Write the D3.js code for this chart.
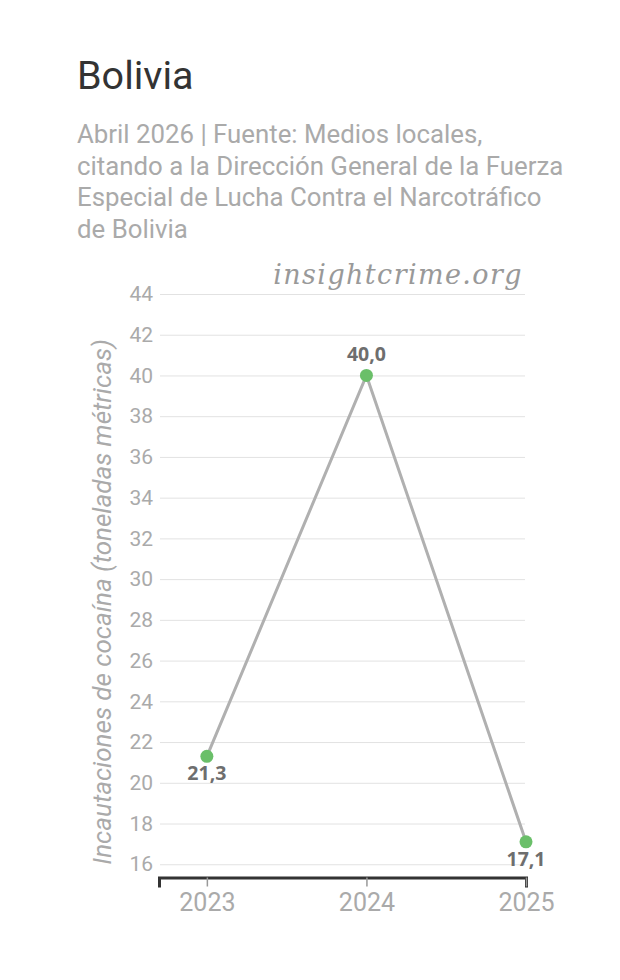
<!DOCTYPE html>
<html>
<head>
<meta charset="utf-8">
<script src="https://cdn.jsdelivr.net/npm/d3@7"></script>
<style>
  body { margin: 0; background: #fff; font-family: Roboto, "Noto Sans", sans-serif; }
</style>
</head>
<body>
<div id="chart"></div>
<script>
// Data
const years = [2023, 2024, 2025];
const seizures = [21.3, 40.0, 17.1];
const yTicks = [16, 18, 20, 22, 24, 26, 28, 30, 32, 34, 36, 38, 40, 42, 44];

const subtitleLines = [
    "Abril 2026 | Fuente: Medios locales,",
    "citando a la Dirección General de la Fuerza",
    "Especial de Lucha Contra el Narcotráfico",
    "de Bolivia"
];

const W = 620, H = 980;
const margin = {top: 294, right: 93, bottom: 102, left: 159};

const svg = d3.select("#chart").append("svg")
    .attr("width", W)
    .attr("height", H);

// Title and subtitle
svg.append("text")
    .attr("x", 77).attr("y", 89)
    .style("font-size", "39.5px")
    .style("fill", "#333")
    .text("Bolivia");

svg.append("g").selectAll("text")
    .data(subtitleLines)
    .join("text")
    .attr("x", 77)
    .attr("y", (d, i) => 143 + i * 31.5)
    .style("font-size", "25.8px")
    .style("fill", "#aaa")
    .text(d => d);

// Watermark
svg.append("text")
    .attr("x", 523).attr("y", 284)
    .attr("text-anchor", "end")
    .style("font-family", "'DejaVu Serif', serif")
    .style("font-style", "italic")
    .style("font-size", "27px")
    .style("letter-spacing", "1.4px")
    .style("fill", "#999")
    .text("insightcrime.org");

const x = d3.scaleLinear()
    .domain([2022.7, 2025])
    .range([margin.left, W - margin.right - 1]);

const y = d3.scaleLinear()
    .domain([15.35, 44])
    .range([H - margin.bottom - 0.5, margin.top]);

// Grid lines + y labels
const yAxis = svg.append("g")
    .attr("transform", `translate(${margin.left},0)`)
    .call(d3.axisLeft(y).tickValues(yTicks).tickSize(-(x(2025) - margin.left - 2)).tickPadding(6));
yAxis.select(".domain").remove();
yAxis.selectAll(".tick line").attr("stroke", "#e2e2e2").attr("transform", "translate(1,0)");
yAxis.selectAll(".tick text")
    .style("font-family", "Roboto, sans-serif")
    .style("font-size", "21px")
    .style("fill", "#aaa");

// Y axis title
svg.append("text")
    .attr("transform", `translate(111,602) rotate(-90)`)
    .attr("text-anchor", "middle")
    .style("font-style", "italic")
    .style("font-size", "26px")
    .style("fill", "#aaa")
    .text("Incautaciones de cocaína (toneladas métricas)");

// X axis
const xAxis = svg.append("g")
    .attr("transform", `translate(0,${y(15.35)})`)
    .call(d3.axisBottom(x).tickValues(years).tickFormat(d3.format("d")).tickSize(9).tickSizeOuter(10).tickPadding(7));
xAxis.select(".domain").attr("stroke", "#333").attr("stroke-width", 3);
xAxis.selectAll(".tick line").attr("stroke", "#999").attr("stroke-width", 1.5);
xAxis.selectAll(".tick text")
    .style("font-family", "Roboto, sans-serif")
    .style("font-size", "25px")
    .style("fill", "#aaa");

// Line
const pts = years.map((d, i) => ({year: d, value: seizures[i]}));
svg.append("path")
    .datum(pts)
    .attr("fill", "none")
    .attr("stroke", "#b0b0b0")
    .attr("stroke-width", 3)
    .attr("d", d3.line().x(d => x(d.year)).y(d => y(d.value)));

// Dots
svg.append("g").selectAll("circle")
    .data(pts)
    .join("circle")
    .attr("cx", d => x(d.year))
    .attr("cy", d => y(d.value))
    .attr("r", 6.5)
    .attr("fill", "#6abf69");

// Value labels
const fmt = v => v.toFixed(1).replace(".", ",");
svg.append("g").selectAll("text")
    .data(pts)
    .join("text")
    .attr("x", d => x(d.year))
    .attr("y", (d, i) => i === 1 ? y(d.value) - 14 : y(d.value) + 24)
    .attr("text-anchor", "middle")
    .style("font-family", "'Open Sans', sans-serif")
    .style("font-weight", "bold")
    .style("font-size", "19.5px")
    .style("fill", "#6e6e6e")
    .text(d => fmt(d.value));
</script>
</body>
</html>
